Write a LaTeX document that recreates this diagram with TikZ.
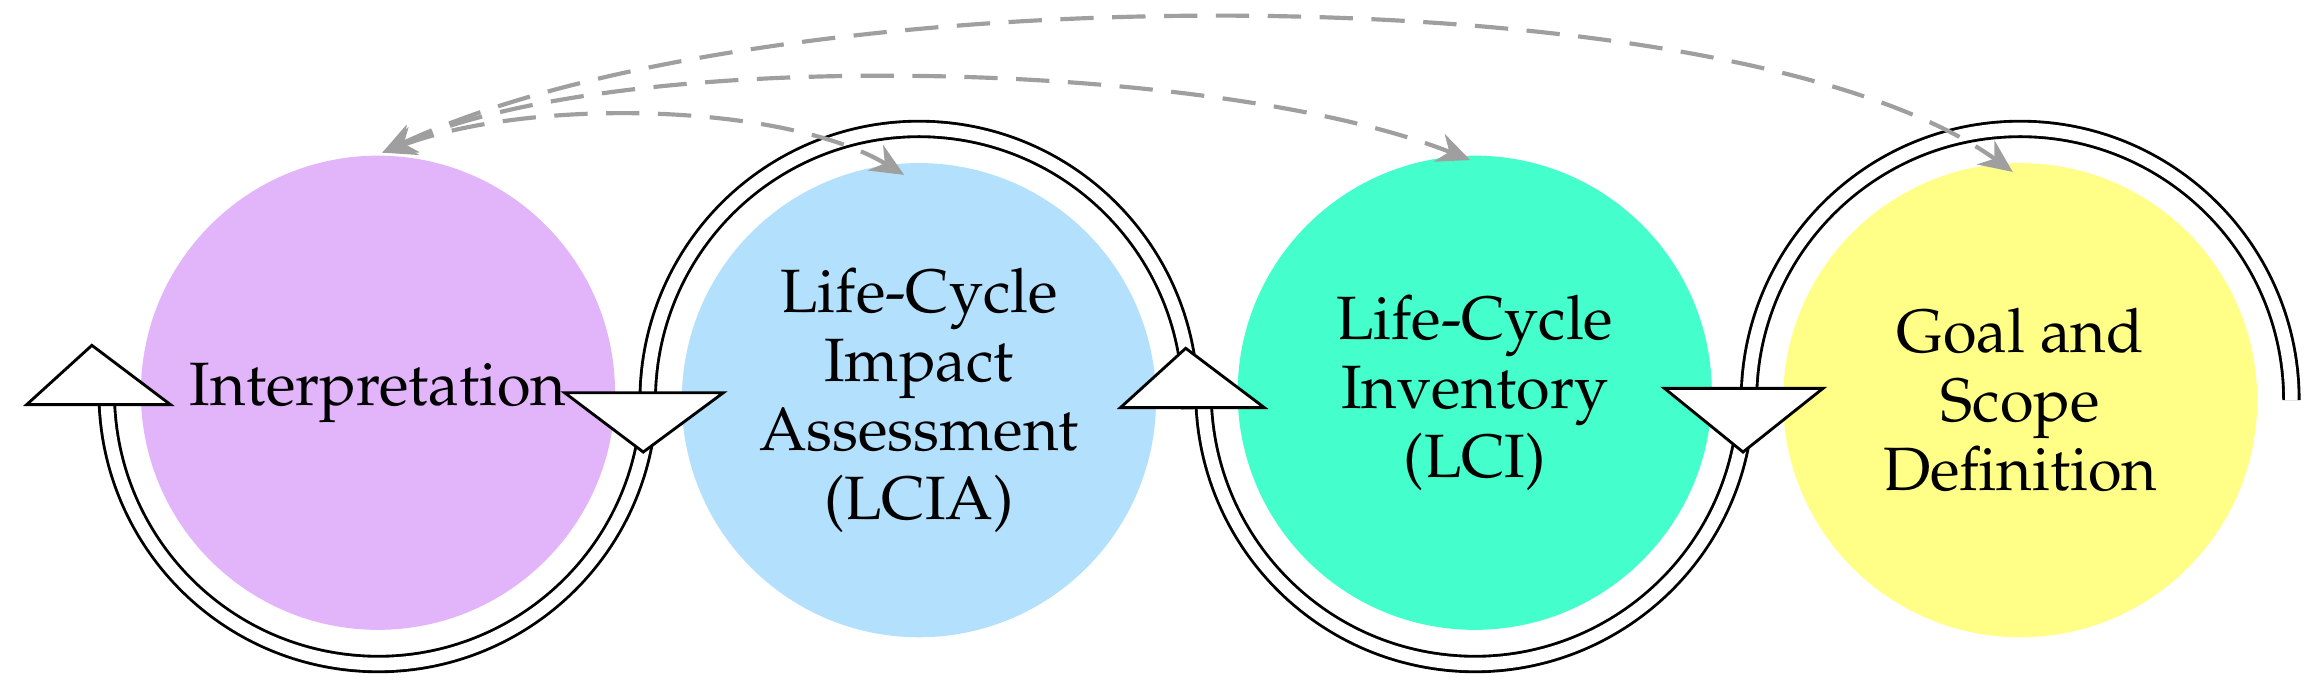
\documentclass[tikz,border=0pt]{standalone}
\usepackage[T1]{fontenc}
\usepackage{palatino}
\usetikzlibrary{arrows.meta}
\definecolor{interp}{HTML}{E2B4FA}
\definecolor{lcia}{HTML}{B2E0FD}
\definecolor{lci}{HTML}{44FFCC}
\definecolor{goal}{HTML}{FFFF88}
\tikzset{
  phase/.style={circle, minimum size=6.4cm, inner sep=0pt, align=center,
    font=\fontsize{23.5}{26.5}\selectfont},
  ring/.style={line width=1.1pt, double=white, double distance=0.17cm},
  head/.style={draw=black, line width=1.1pt, fill=white, line join=miter},
  link/.style={gray!75, line width=1.6pt, dash pattern=on 0.45cm off 0.25cm,
    {Stealth[length=0.45cm,width=0.4cm]}-{Stealth[length=0.45cm,width=0.4cm]}}
}
\begin{document}
\begin{tikzpicture}[x=0.02cm, y=-0.02cm]
    \useasboundingbox (0,0) rectangle (1568,469);
    % Phases
    \node [phase, fill=interp] (Int) at (255,265) {Interpretation};
    \node [phase, fill=lcia] (LCIA) at (620,270) {Life-Cycle\\Impact\\Assessment\\(LCIA)};
    \node [phase, fill=lci] (LCI) at (995,265) {Life-Cycle\\Inventory\\(LCI)};
    \node [phase, fill=goal] (Goal) at (1363,270) {Goal and\\Scope\\Definition};

    % Rings
    \draw[ring] (Int) ++(7:183) arc[start angle=7, end angle=180, radius=183] coordinate (IntEnd);
    \draw[ring] (LCIA) ++(2:183) arc[start angle=2, end angle=-180, radius=183] coordinate (LCIAEnd);
    \draw[ring] (LCI) ++(7:183) arc[start angle=7, end angle=180, radius=183] coordinate (LCIEnd);
    \draw[ring] (Goal) ++(0:183) arc[start angle=0, end angle=-180, radius=183] coordinate (GoalEnd);

    % Heads
    \draw[head] (IntEnd) ++(-54,8) -- ++(44,-40) -- ++(53,40) -- cycle;
    \draw[head] (LCIAEnd) ++(-56,-5) -- ++(107,0) -- ++(-54,40) -- cycle;
    \draw[head] (LCIEnd) ++(-56,10) -- ++(44,-40) -- ++(53,40) -- cycle;
    \draw[head] (GoalEnd) ++(-57,-8) -- ++(107,0) -- ++(-54,43) -- cycle;

    % Links
    \coordinate (top) at (258,103);
    \coordinate (tLCIA) at (610,118);
    \coordinate (tLCI) at (992,108);
    \coordinate (tGoal) at (1358,116);
    \draw[link] (top) .. controls (360,65) and (530,70) .. (tLCIA);
    \draw[link] (top) .. controls (420,30) and (820,40) .. (tLCI);
    \draw[link] (top) .. controls (520,-20) and (1170,-20) .. (tGoal);
\end{tikzpicture}
\end{document}
